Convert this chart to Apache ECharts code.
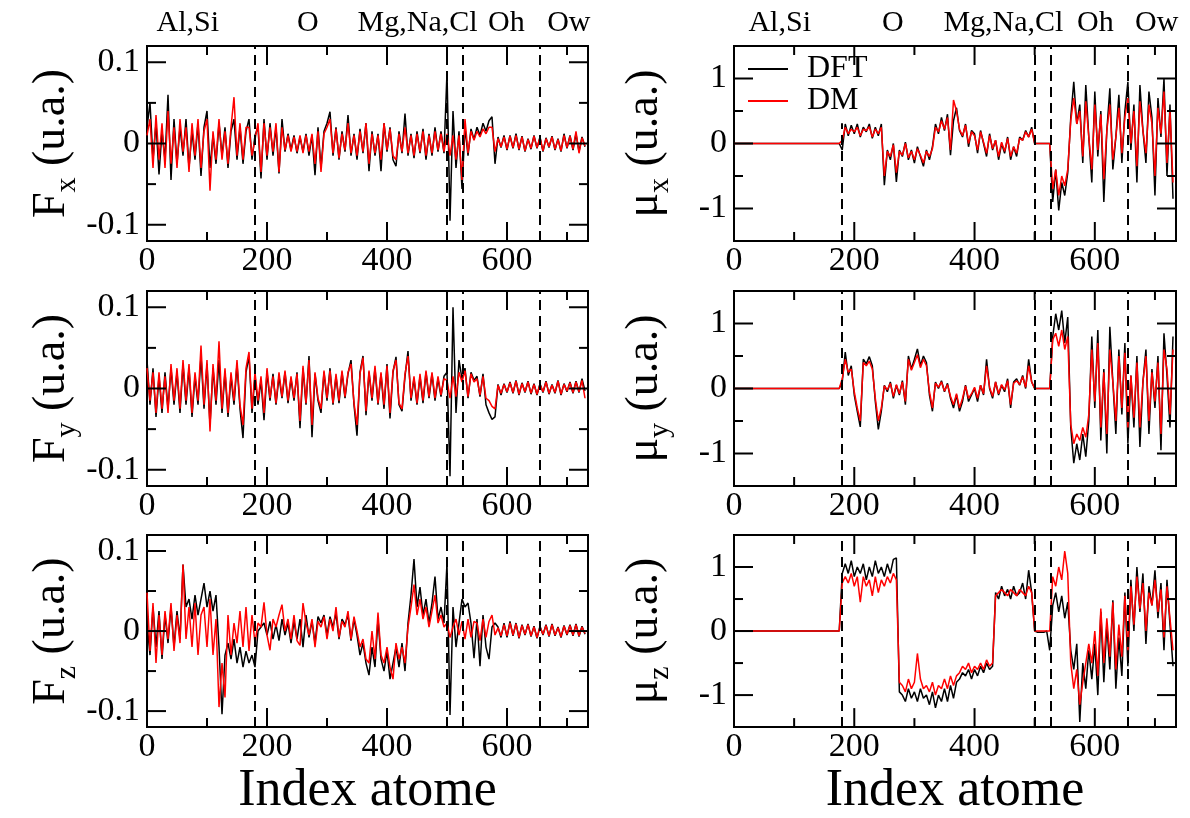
<!DOCTYPE html>
<html><head><meta charset="utf-8">
<script src="https://cdn.jsdelivr.net/npm/echarts@6/dist/echarts.min.js"></script>
<style>html,body{margin:0;padding:0;background:#fff}#c{width:1190px;height:818px}</style>
</head><body><div id="c"></div>
<script>
// atom index sampled every 5 atoms (0..730)
const atomIndex = [];
for (let i = 0; i <= 730; i += 5) atomIndex.push(i);

const fxDFT = [
0.02,0.05,-0.02,0.025,-0.038,0.015,-0.02,0.06,-0.045,0.03,
-0.025,0.02,-0.015,0.03,-0.03,0.015,-0.02,0.025,-0.04,0.02,
0.04,-0.03,0.01,-0.025,0.025,-0.015,0.02,-0.03,0.015,0.03,
-0.02,0.02,-0.025,0.015,0.03,-0.02,0.01,0.02,-0.043,0.03,
-0.02,0.025,-0.015,0.02,-0.037,0.03,-0.01,0.012,-0.008,0.01,
-0.012,0.008,-0.01,0.012,-0.015,0.01,-0.039,0.02,-0.03,0.015,
0.025,0.039,-0.015,0.02,-0.02,0.015,-0.01,0.035,-0.015,0.012,
-0.02,0.018,-0.012,0.025,-0.034,0.015,-0.015,0.012,-0.034,0.025,
-0.01,0.02,-0.02,-0.028,0.015,-0.012,0.037,-0.015,0.012,-0.018,
0.015,-0.012,0.018,-0.02,0.012,-0.015,0.02,-0.01,0.015,-0.012,
0.088,-0.095,0.04,-0.03,0.015,-0.056,0.02,-0.015,0.018,0.005,
0.02,0.01,0.025,0.015,0.028,0.033,-0.025,0.008,-0.005,0.01,
-0.008,0.01,-0.006,0.012,-0.008,0.009,-0.01,0.006,-0.007,0.01,
-0.006,0.008,-0.01,0.007,-0.005,0.009,-0.008,0.006,-0.01,0.012,
-0.006,0.01,-0.008,0.012,-0.01,0.008,-0.004];
const fxDM = [
0.01,0.03,-0.03,0.035,-0.02,0.025,-0.03,0.04,-0.025,0.02,
-0.03,0.03,-0.01,0.02,-0.035,0.025,-0.015,0.03,-0.03,0.015,
0.03,-0.058,0.015,-0.02,0.03,-0.02,0.015,-0.025,0.02,0.057,
-0.015,0.025,-0.02,0.02,0.02,-0.015,0.005,0.025,-0.035,0.025,
-0.015,0.02,-0.01,0.025,-0.035,0.02,-0.008,0.01,-0.01,0.008,
-0.01,0.01,-0.012,0.01,-0.01,0.012,-0.025,0.015,-0.035,0.012,
0.02,0.03,-0.012,0.018,-0.018,0.012,-0.008,0.025,-0.012,0.01,
-0.015,0.015,-0.01,0.025,-0.025,0.012,-0.012,0.01,-0.02,0.025,
-0.008,0.018,-0.015,-0.02,0.012,-0.01,0.02,-0.012,0.01,-0.015,
0.012,-0.01,0.015,-0.015,0.01,-0.012,0.015,-0.008,0.012,-0.01,
0.012,-0.015,0.01,-0.02,0.01,-0.045,0.03,-0.012,0.015,0.004,
0.015,0.008,0.018,0.012,0.02,0.02,-0.01,0.006,-0.004,0.008,
-0.007,0.009,-0.005,0.01,-0.007,0.008,-0.009,0.005,-0.006,0.009,
-0.005,0.007,-0.009,0.006,-0.004,0.008,-0.007,0.005,-0.009,0.01,
-0.005,0.009,-0.007,0.015,-0.012,0.007,-0.003];

const fyDFT = [
0.035,-0.02,0.025,-0.035,0.015,-0.03,0.02,-0.025,0.025,-0.02,
0.02,-0.03,0.03,-0.02,0.025,-0.035,0.015,-0.02,0.04,-0.025,
0.03,-0.045,0.025,-0.02,0.035,-0.03,0.02,-0.035,0.015,-0.02,
0.03,-0.025,-0.061,0.02,0.04,-0.03,0.015,-0.02,0.01,-0.039,
0.02,-0.015,0.018,-0.02,0.015,-0.012,0.02,-0.018,0.012,-0.015,
0.02,-0.049,0.025,-0.02,0.04,-0.06,0.018,-0.015,-0.03,0.02,
-0.015,0.025,-0.02,0.015,-0.018,0.02,-0.012,0.018,0.035,-0.02,
-0.058,0.02,0.04,-0.033,0.02,-0.015,0.025,-0.02,0.018,-0.025,
0.03,-0.037,0.02,0.039,-0.02,-0.028,0.015,0.046,-0.015,0.012,
-0.02,0.015,-0.018,0.02,-0.012,0.018,-0.015,0.012,-0.01,0.015,
0.02,-0.108,0.1,-0.03,0.035,0.012,0.025,-0.012,0.02,0.01,
0.015,-0.01,0.018,-0.02,-0.03,-0.038,-0.035,0.005,-0.008,0.006,
-0.005,0.008,-0.006,0.01,-0.008,0.007,-0.005,0.009,-0.007,0.006,
-0.008,0.006,-0.005,0.009,-0.007,0.005,-0.006,0.01,-0.008,0.006,
-0.004,0.008,-0.006,0.009,-0.005,0.012,-0.003];
const fyDM = [
0.025,-0.015,0.02,-0.03,0.02,-0.025,0.015,-0.03,0.03,-0.015,
0.025,-0.025,0.035,-0.015,0.03,-0.03,0.02,-0.015,0.053,-0.02,
0.035,-0.053,0.03,-0.015,0.058,-0.025,0.025,-0.03,0.02,-0.015,
0.035,-0.02,-0.045,0.025,0.045,-0.025,0.02,-0.015,0.015,-0.03,
0.025,-0.012,0.015,-0.018,0.02,-0.01,0.022,-0.015,0.015,-0.012,
0.018,-0.04,0.028,-0.018,0.035,-0.045,0.02,-0.012,-0.025,0.022,
-0.012,0.022,-0.018,0.018,-0.015,0.022,-0.01,0.02,0.03,-0.018,
-0.045,0.018,0.038,-0.028,0.022,-0.012,0.028,-0.018,0.02,-0.02,
0.028,-0.03,0.022,0.035,-0.018,-0.025,0.018,0.04,-0.012,0.015,
-0.018,0.018,-0.015,0.022,-0.01,0.02,-0.012,0.015,-0.008,0.012,
0.01,-0.012,0.015,-0.01,0.02,0.008,0.022,-0.01,0.018,0.008,
0.012,-0.008,0.015,-0.012,-0.015,-0.022,-0.025,0.004,-0.006,0.005,
-0.004,0.007,-0.005,0.009,-0.007,0.006,-0.004,0.008,-0.006,0.005,
-0.007,0.005,-0.004,0.008,-0.006,0.004,-0.005,0.009,-0.007,0.005,
-0.003,0.007,-0.005,0.008,-0.004,0.01,-0.012];

const fzDFT = [
0.01,-0.03,0.03,-0.02,0.025,-0.035,0.02,-0.015,0.03,-0.02,
0.025,-0.01,0.083,0.03,0.04,0.015,0.045,0.02,0.04,0.06,
0.03,0.05,0.025,0.045,-0.02,-0.104,-0.03,-0.015,-0.035,-0.01,
-0.04,-0.02,-0.045,-0.025,-0.04,-0.03,-0.045,0.0,0.005,0.01,
-0.005,0.012,-0.01,0.008,-0.012,0.015,-0.005,0.01,-0.015,0.012,
-0.01,0.015,-0.02,0.02,-0.008,0.012,-0.015,0.018,0.01,0.02,
-0.005,0.018,0.005,0.022,-0.01,0.015,0.008,0.02,-0.012,0.015,
-0.005,-0.03,-0.015,-0.04,-0.055,-0.02,-0.045,0.015,-0.035,-0.05,
-0.025,-0.06,-0.04,-0.02,-0.045,-0.015,-0.05,0.01,0.045,0.09,
0.03,0.055,0.02,0.04,0.01,0.035,0.068,0.015,0.03,0.01,
0.085,-0.105,0.03,-0.02,0.01,0.04,0.03,0.035,0.01,-0.034,
0.015,-0.044,0.02,-0.02,-0.035,0.005,0.01,0.005,-0.008,0.01,
-0.008,0.012,-0.006,0.01,-0.009,0.008,-0.005,0.009,-0.007,0.006,
-0.009,0.006,-0.005,0.008,-0.007,0.009,-0.006,0.005,-0.008,0.007,
-0.005,0.008,-0.006,0.009,-0.007,0.006,-0.004];
const fzDM = [
0.048,-0.025,0.035,-0.04,0.02,-0.03,0.025,-0.01,0.035,-0.025,
0.02,-0.015,0.083,-0.01,0.03,-0.02,0.035,-0.03,0.02,0.03,
-0.02,0.04,-0.03,0.015,-0.095,-0.04,-0.083,0.02,-0.03,0.01,
-0.015,0.025,-0.02,0.03,-0.025,0.02,-0.015,0.01,0.005,0.036,
-0.005,-0.024,0.015,0.005,0.02,0.033,0.0,0.015,-0.01,0.02,
-0.012,-0.018,0.035,0.01,-0.005,0.015,-0.02,0.012,0.005,0.018,
-0.01,0.015,0.0,0.03,-0.008,0.012,0.005,0.025,-0.01,0.018,
0.0,-0.02,-0.01,-0.035,-0.04,0.0,-0.035,0.023,-0.03,-0.04,
-0.02,-0.045,-0.06,-0.015,-0.035,-0.02,-0.04,0.005,0.03,0.058,
0.02,0.04,0.015,0.03,0.005,0.025,0.045,0.01,0.02,0.005,
0.01,-0.008,0.005,0.015,-0.005,0.012,-0.01,0.015,-0.008,0.012,
0.01,-0.012,0.015,-0.008,0.012,0.02,-0.005,0.004,-0.006,0.008,
-0.006,0.01,-0.005,0.009,-0.008,0.007,-0.004,0.008,-0.006,0.005,
-0.008,0.005,-0.004,0.007,-0.006,0.008,-0.005,0.004,-0.007,0.006,
-0.004,0.007,-0.005,0.008,-0.006,0.005,-0.003];

const muxDFT = [
0,0,0,0,0,0,0,0,0,0,
0,0,0,0,0,0,0,0,0,0,
0,0,0,0,0,0,0,0,0,0,
0,0,0,0,0,0,-0.1,0.3,0.12,0.28,
0.15,0.3,0.1,0.25,0.18,0.3,0.08,0.25,0.12,0.3,
-0.64,-0.1,-0.25,0.0,-0.59,-0.1,-0.2,0.02,-0.25,-0.1,
-0.3,-0.05,-0.2,-0.35,-0.1,-0.25,-0.05,0.3,0.15,0.4,
0.2,0.45,-0.18,0.35,0.55,0.2,0.1,0.3,-0.05,0.2,
0.15,-0.15,0.2,0.0,-0.2,0.15,-0.1,0.05,-0.25,0.0,
-0.15,0.1,-0.25,-0.05,-0.2,0.1,0.05,0.2,0.1,0.25,
0.0,0.0,0.0,0.0,0.0,0.0,-0.9,-0.4,-1.03,-0.6,
-0.8,-0.45,0.4,0.95,0.3,0.6,-0.3,0.9,0.1,-0.6,
0.8,-0.2,0.5,-0.9,0.2,0.85,-0.4,0.1,0.75,-0.3,
0.5,0.95,-0.1,0.6,-0.6,0.9,0.2,-0.3,0.8,0.4,
-0.8,0.7,0.1,1.0,-0.5,0.6,-0.85];
const muxDM = [
0,0,0,0,0,0,0,0,0,0,
0,0,0,0,0,0,0,0,0,0,
0,0,0,0,0,0,0,0,0,0,
0,0,0,0,0,0,0.05,0.25,0.15,0.22,
0.18,0.25,0.12,0.22,0.2,0.26,0.1,0.22,0.15,0.25,
-0.5,-0.12,-0.2,-0.02,-0.45,-0.12,-0.18,0.0,-0.22,-0.12,
-0.25,-0.08,-0.18,-0.3,-0.12,-0.2,-0.08,0.25,0.18,0.35,
0.22,0.4,-0.1,0.67,0.5,0.22,0.12,0.28,0.0,0.18,
0.12,-0.1,0.18,0.02,-0.15,0.12,-0.08,0.05,-0.2,0.02,
-0.12,0.08,-0.2,-0.05,-0.15,0.08,0.05,0.18,0.1,0.22,
0.0,0.0,0.0,0.0,0.0,0.0,-0.7,-0.4,-0.8,-0.5,
-0.65,-0.4,0.35,0.7,0.3,0.5,-0.2,0.65,0.1,-0.4,
0.6,-0.1,0.45,-0.55,0.2,0.6,-0.25,0.1,0.55,-0.15,
0.4,0.7,0.0,0.5,-0.35,0.65,0.2,-0.15,0.6,0.3,
-0.5,0.55,0.15,0.8,-0.3,0.5,-0.6];

const muyDFT = [
0,0,0,0,0,0,0,0,0,0,
0,0,0,0,0,0,0,0,0,0,
0,0,0,0,0,0,0,0,0,0,
0,0,0,0,0,0,0.1,0.56,0.2,0.35,
-0.1,-0.35,-0.59,0.45,0.38,0.49,0.35,-0.2,-0.63,-0.35,
0.05,-0.05,0.1,-0.15,0.05,-0.1,0.12,-0.25,0.5,0.3,
0.45,0.61,0.35,0.5,0.4,-0.1,-0.35,0.1,0.0,0.12,
-0.05,0.08,-0.15,-0.3,-0.1,-0.35,-0.2,0.05,-0.2,-0.1,
0.0,-0.2,0.05,-0.1,0.45,0.0,-0.15,0.1,-0.1,0.05,
-0.05,0.15,-0.3,0.1,0.15,0.05,0.2,0.0,0.45,0.1,
0,0,0,0,0,0,0.8,1.15,0.9,1.2,
0.7,1.1,-0.6,-1.15,-0.85,-1.1,-0.7,-1.05,-0.5,0.8,
-0.3,0.9,-0.8,0.3,-1.0,0.95,0.1,-0.7,0.6,-0.4,
0.7,-0.85,0.2,-0.6,0.5,-0.9,0.1,0.6,-0.7,0.3,
-0.3,0.5,-0.95,0.85,0.2,-0.6,0.8];
const muyDM = [
0,0,0,0,0,0,0,0,0,0,
0,0,0,0,0,0,0,0,0,0,
0,0,0,0,0,0,0,0,0,0,
0,0,0,0,0,0,0.15,0.45,0.25,0.3,
-0.05,-0.3,-0.5,0.4,0.35,0.42,0.3,-0.15,-0.5,-0.3,
0.04,-0.02,0.08,-0.12,0.06,-0.08,0.1,-0.2,0.45,0.28,
0.4,0.52,0.32,0.45,0.35,-0.05,-0.3,0.08,0.02,0.1,
-0.04,0.06,-0.12,-0.25,-0.08,-0.3,-0.15,0.04,-0.15,-0.08,
0.02,-0.15,0.05,-0.08,0.35,0.02,-0.12,0.1,-0.08,0.06,
-0.02,0.12,-0.25,0.08,0.12,0.06,0.18,0.02,0.35,0.1,
0,0,0,0,0,0,0.75,0.85,0.65,0.9,
0.6,0.8,-0.55,-0.85,-0.7,-0.8,-0.6,-0.75,-0.4,0.6,
-0.2,0.7,-0.6,0.25,-0.7,0.6,0.1,-0.5,0.5,-0.3,
0.55,-0.6,0.2,-0.45,0.4,-0.6,0.1,0.5,-0.5,0.25,
-0.2,0.4,-0.7,0.6,0.3,-0.4,0.6];

const muzDFT = [
0,0,0,0,0,0,0,0,0,0,
0,0,0,0,0,0,0,0,0,0,
0,0,0,0,0,0,0,0,0,0,
0,0,0,0,0,0,0.9,1.05,0.9,1.1,
0.85,1.0,0.9,1.05,0.8,1.0,0.85,1.1,0.9,1.0,
0.85,1.05,0.9,1.12,1.14,-0.95,-1.0,-1.1,-0.9,-1.05,
-0.95,-1.1,-0.9,-1.05,-1.0,-1.15,-0.95,-1.2,-1.0,-1.1,
-0.9,-1.1,-0.85,-1.05,-0.8,-0.75,-0.65,-0.7,-0.6,-0.75,
-0.6,-0.7,-0.55,-0.65,-0.5,-0.6,-0.55,0.6,0.5,0.7,
0.55,0.65,0.5,0.7,0.55,0.6,0.75,0.5,0.95,0.6,
0.0,-0.02,-0.02,-0.02,0.0,-0.3,0.4,0.6,0.3,0.55,
0.2,0.45,-0.3,-0.6,-0.2,-1.42,-0.5,-0.9,-0.3,-0.75,
-0.2,-1.0,0.3,-0.8,0.1,-0.6,0.48,-0.9,-0.1,-0.7,
0.6,-0.55,0.8,0.0,1.0,0.3,0.9,-0.2,0.7,0.4,
0.95,0.2,0.75,-0.3,0.8,0.1,-0.55];
const muzDM = [
0,0,0,0,0,0,0,0,0,0,
0,0,0,0,0,0,0,0,0,0,
0,0,0,0,0,0,0,0,0,0,
0,0,0,0,0,0,0.75,0.85,0.75,0.9,
0.7,0.85,0.45,0.85,0.7,0.8,0.55,0.85,0.6,0.8,
0.7,0.85,0.75,0.9,0.8,-0.8,-0.85,-0.95,-0.75,-0.9,
-0.8,-0.35,-0.75,-0.9,-0.85,-0.95,-0.8,-1.0,-0.85,-0.9,
-0.75,-0.9,-0.7,-0.85,-0.7,-0.65,-0.55,-0.6,-0.5,-0.65,
-0.55,-0.6,-0.5,-0.6,-0.45,-0.55,-0.5,0.55,0.6,0.65,
0.6,0.55,0.65,0.6,0.55,0.65,0.6,0.55,0.7,0.6,
0.0,0.0,0.0,0.0,0.0,0.0,0.85,0.7,1.0,0.8,
1.25,0.9,-0.5,-0.9,-0.6,-1.15,-0.8,-0.5,-0.2,-0.5,
0.0,-0.7,0.35,-0.5,0.2,-0.4,0.45,-0.6,0.1,-0.4,
0.55,-0.3,0.7,0.1,0.85,0.35,0.75,0.0,0.6,0.4,
0.8,0.3,0.65,-0.1,0.7,0.2,-0.3];

const dividers = [180, 500, 527, 655];
const xMajor = [0, 200, 400, 600], xMinor = [100, 300, 500, 700];
const fMajor = [-0.1, 0, 0.1], fMinor = [-0.05, 0.05];
const muMajor = [-1, 0, 1], muMinor = [-0.5, 0.5];
const groupNames = ['Al,Si', 'O', 'Mg,Na,Cl', 'Oh', 'Ow'];
const groupPosLeft = [68, 268, 451, 599, 703];
const groupPosRight = [76, 264, 448, 601, 703];
// top of the first divider in the μx panel stops under the legend
const legendDividerTop = 0.31;
const X_MAX = 735;

const FONT = 'Liberation Serif';
const panels = [
  {col:0,row:0,dft:fxDFT,dm:fxDM,sym:'F',sub:'x',kind:'f'},
  {col:0,row:1,dft:fyDFT,dm:fyDM,sym:'F',sub:'y',kind:'f'},
  {col:0,row:2,dft:fzDFT,dm:fzDM,sym:'F',sub:'z',kind:'f'},
  {col:1,row:0,dft:muxDFT,dm:muxDM,sym:'μ',sub:'x',kind:'mu',legend:true},
  {col:1,row:1,dft:muyDFT,dm:muyDM,sym:'μ',sub:'y',kind:'mu'},
  {col:1,row:2,dft:muzDFT,dm:muzDM,sym:'μ',sub:'z',kind:'mu'}
];

const grids = [], xAxes = [], yAxes = [], series = [];
const toData = a => atomIndex.map((x, i) => [x, a[i]]);

// inward ticks on all four sides, placed through the axes' own scales (api.coord)
function tickRenderer(yLo, yHi) {
  return function (params, api) {
    const v = api.value(0), kind = api.value(1);
    const len = (kind === 0 || kind === 2) ? 19 : 9;
    const style = {stroke:'#000', lineWidth:2};
    if (kind < 2) {
      const b = api.coord([v, yLo]), t = api.coord([v, yHi]);
      return {type:'group', children:[
        {type:'line', shape:{x1:b[0], y1:b[1], x2:b[0], y2:b[1] - len}, style:style},
        {type:'line', shape:{x1:t[0], y1:t[1], x2:t[0], y2:t[1] + len}, style:style}]};
    }
    const l = api.coord([0, v]), r = api.coord([X_MAX, v]);
    return {type:'group', children:[
      {type:'line', shape:{x1:l[0], y1:l[1], x2:l[0] + len, y2:l[1]}, style:style},
      {type:'line', shape:{x1:r[0], y1:r[1], x2:r[0] - len, y2:r[1]}, style:style}]};
  };
}

panels.forEach((p, k) => {
  const left = p.col === 0 ? 147 : 734;
  const width = p.col === 0 ? 441 : 442;
  const top = [46, 291, 535][p.row];
  grids.push({left, top, width, height:195, show:true, borderColor:'#000', borderWidth:2, backgroundColor:'transparent'});
  const isF = p.kind === 'f';
  const yLo = isF ? -0.12 : -1.5, yHi = isF ? 0.12 : 1.5;
  const yMaj = isF ? fMajor : muMajor, yMnr = isF ? fMinor : muMinor;

  const xi = xAxes.length;
  const bx = {gridIndex:k, type:'value', min:0, max:X_MAX, axisLine:{show:false, onZero:false}, axisTick:{show:false}, splitLine:{show:false}};
  xAxes.push(Object.assign({}, bx, {position:'bottom',
    axisLabel:{customValues:xMajor, fontFamily:FONT, fontSize:34, color:'#000', margin:3},
    name: p.row === 2 ? 'Index atome' : '', nameLocation:'middle', nameGap:36,
    nameTextStyle:{fontFamily:FONT, fontSize:52, color:'#000'}}));
  if (p.row === 0) {
    const pos = p.col === 0 ? groupPosLeft : groupPosRight;
    xAxes.push(Object.assign({}, bx, {position:'top',
      axisLabel:{customValues:pos, formatter: v => groupNames[pos.indexOf(v)], fontFamily:FONT, fontSize:30, color:'#000', margin:8}}));
  }

  const yi = yAxes.length;
  yAxes.push({gridIndex:k, type:'value', min:yLo, max:yHi, position:'left',
    axisLine:{show:false, onZero:false}, axisTick:{show:false}, splitLine:{show:false},
    axisLabel:{customValues:yMaj, fontFamily:FONT, fontSize:34, color:'#000', margin:7},
    name:'{a|' + p.sym + '}{s|' + p.sub + '}{a| (u.a.)}', nameLocation:'middle',
    nameGap: p.col === 0 ? 65 : 59,
    nameTextStyle:{color:'#000', fontFamily:FONT, rich:{
      a:{fontFamily:FONT, fontSize:46, lineHeight:60, color:'#000'},
      s:{fontFamily:FONT, fontSize:30, lineHeight:30, padding:[30,0,0,0], color:'#000'}}}});

  series.push({type:'line', name:'DFT', xAxisIndex:xi, yAxisIndex:yi, data:toData(p.dft),
    symbol:'none', lineStyle:{color:'#000', width:1.5}, itemStyle:{color:'#000'}, z:2,
    markLine:{silent:true, symbol:['none','none'], label:{show:false}, animation:false,
      lineStyle:{color:'#000', type:[10,6], width:2},
      data: dividers.map((d, j) => [{coord:[d, yLo]}, {coord:[d, (p.legend && j === 0) ? legendDividerTop : yHi]}])}});
  series.push({type:'line', name:'DM', xAxisIndex:xi, yAxisIndex:yi, data:toData(p.dm),
    symbol:'none', lineStyle:{color:'#ff0000', width:1.5}, itemStyle:{color:'#ff0000'}, z:3});

  const tickData = [].concat(
    xMajor.map(v => [v, 0]), xMinor.map(v => [v, 1]),
    yMaj.map(v => [v, 2]), yMnr.map(v => [v, 3]));
  series.push({type:'custom', xAxisIndex:xi, yAxisIndex:yi, silent:true, clip:false, z:5,
    encode:{x:0, y:1}, data:tickData, renderItem:tickRenderer(yLo, yHi), tooltip:{show:false}});
});

const chart = echarts.init(document.getElementById('c'));
chart.setOption({
  animation:false,
  backgroundColor:'#fff',
  legend:{data:[{name:'DFT', icon:'rect'}, {name:'DM', icon:'rect'}], orient:'vertical', left:748, top:53, padding:0, itemGap:0,
    itemWidth:40, itemHeight:2, selectedMode:false, z:10,
    textStyle:{fontFamily:FONT, fontSize:32, color:'#000', lineHeight:30, padding:[0,0,0,14]}},
  grid:grids, xAxis:xAxes, yAxis:yAxes, series:series
});
</script></body></html>
